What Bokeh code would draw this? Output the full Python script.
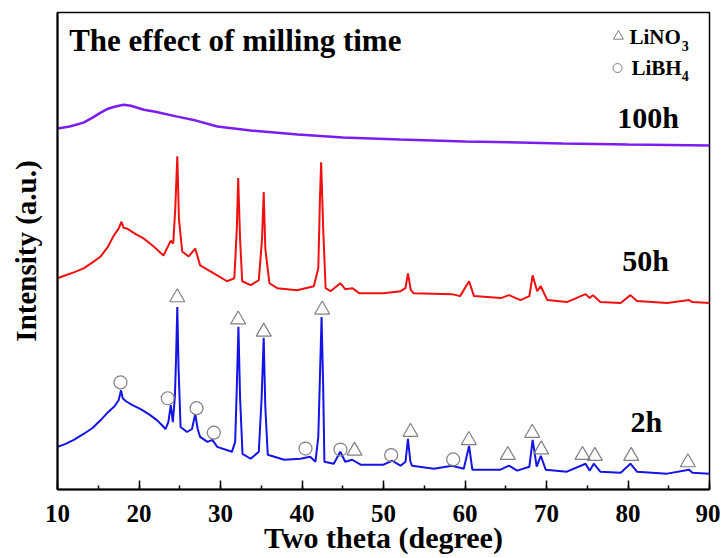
from bokeh.plotting import figure
from bokeh.models import Range1d, SingleIntervalTicker, FixedTicker, Label
from bokeh.embed import file_html
from bokeh.resources import INLINE

# ---- data (two theta in degree, intensity in a.u.) ----
x_2h = [10.0, 11.0, 12.0, 13.2, 14.3, 15.3, 16.2, 17.0, 17.5, 17.8, 18.0, 18.4, 19.2, 20.2, 21.2,
        22.2, 22.8, 23.25, 23.6, 23.9,
        24.15, 24.4, 24.55, 24.7, 24.85, 25.1, 25.9, 26.5, 26.9, 27.2, 27.5, 28.4, 29.0, 29.6, 31.4,
        31.8, 32.0, 32.2, 32.4, 32.7, 33.7, 34.7, 35.05, 35.3, 35.5, 35.8, 37.8, 39.8, 41.0, 41.65,
        42.0, 42.2, 42.4, 42.6, 42.75, 43.9, 44.7, 45.3, 46.15, 47.2, 50.0, 51.05, 52.1, 52.7, 53.0,
        53.3, 53.5, 56.2, 58.4, 59.85, 60.5, 60.9, 64.35, 65.4, 66.4, 67.9, 68.3, 68.8, 69.3, 69.9,
        72.5, 74.8, 75.3, 75.8, 76.6, 79.1, 80.3, 81.1, 84.8, 87.5, 87.9, 90.0]
y_2h = [43, 46, 50, 56, 62, 70, 78, 84, 90, 100, 92, 89, 85, 81, 76,
        70, 65, 61, 68, 85,
        68, 93, 133, 184, 123, 63, 58, 61, 76, 61, 53, 48, 50, 43, 38,
        48, 103, 164, 93, 36, 31, 38, 93, 153, 83, 35, 30, 31, 33, 28,
        53, 113, 174, 103, 28, 26, 38, 28, 30, 25, 25, 29, 24, 28, 51,
        28, 24, 21, 24, 21, 44, 20, 20, 24, 19, 23, 50, 23, 34, 20,
        18, 26, 19, 26, 18, 17, 26, 18, 16, 20, 17, 16]

x_50h = [10.0, 11.0, 12.0, 13.2, 14.3, 15.3, 16.2, 16.9, 17.5, 17.85, 18.1, 18.55, 19.5, 20.6,
         21.8, 23.0, 23.9, 24.2, 24.45, 24.7, 24.9,
         25.3, 26.1, 26.9, 27.5, 29.6, 30.8, 31.7, 32.0, 32.17, 32.4, 32.66, 33.7, 34.7, 35.1, 35.3,
         35.5, 36.0, 36.96, 39.4, 41.45, 42.0, 42.2, 42.35, 42.6, 42.9, 43.5, 44.7, 45.3, 46.2, 47.0,
         50.0, 52.1, 52.7, 53.0, 53.35, 53.7, 58.4, 59.4, 60.5, 61.1, 64.4, 65.4, 66.8, 67.9, 68.3,
         68.85, 69.3, 70.1, 72.5, 74.8, 75.3, 75.7, 76.6, 79.1, 80.3, 81.1, 84.8, 87.5, 87.9, 90.0]
y_50h = [213, 216, 219, 223, 229, 235, 245, 256, 263, 270, 264, 263, 258, 253,
         245, 236, 251, 248, 283, 336, 273,
         240, 235, 243, 226, 216, 210, 213, 263, 314, 253, 210, 206, 211, 253, 300,
         243, 208, 203, 201, 205, 223, 293, 330, 263, 203, 200, 208, 202, 203, 198,
         198, 200, 203, 218, 201, 198, 197, 195, 210, 195, 193, 196, 191, 195, 216,
         200, 205, 191, 189, 197, 193, 196, 189, 188, 196, 190, 188, 191, 189, 188]

x_100h = [10.0, 11.5, 13.2, 14.3, 15.3, 16.2, 17.0, 18.1, 19.0, 20.6, 22.0, 24.7, 27.0, 29.6, 33.7,
          39.5, 45.0, 52.0, 60.0, 72.0, 80.0, 90.0]
y_100h = [364, 366, 370, 375, 380, 384, 386, 388, 387, 383, 381, 376, 372, 366, 362,
          358, 355, 353, 351, 349, 348, 347]

# phase markers (LiNO3 triangles, LiBH4 circles)
tri_x = [24.69, 32.17, 35.31, 42.48, 46.44, 53.31, 60.47, 65.25, 68.25, 69.35, 74.42, 75.93, 80.39, 87.34]
tri_y = [193.7, 171.3, 159, 181.3, 39, 58, 49.7, 34.7, 57, 40.3, 34.7, 33.7, 33.7, 27.3]
circ_x = [17.73, 23.53, 27.06, 29.18, 40.43, 44.72, 50.94, 58.55]
circ_y = [108, 92, 82, 57.3, 41.3, 40.3, 34.7, 30.3]

FONT = "Liberation Serif"

p = figure(width=720, height=556, x_range=Range1d(10, 90), y_range=Range1d(0, 481),
           output_backend="svg", toolbar_location=None,
           min_border_left=57, min_border_right=11, min_border_top=12, min_border_bottom=63)

p.grid.visible = False
p.outline_line_color = "black"
p.outline_line_width = 1.5
p.background_fill_color = "white"
p.border_fill_color = "white"

# x axis
p.xaxis.ticker = SingleIntervalTicker(interval=10, num_minor_ticks=2)
p.xaxis.major_tick_in = 9
p.xaxis.major_tick_out = 0
p.xaxis.minor_tick_in = 4
p.xaxis.minor_tick_out = 0
p.xaxis.major_tick_line_width = 1.5
p.xaxis.minor_tick_line_width = 1.5
p.xaxis.axis_line_width = 2
p.xaxis.major_label_text_font = FONT
p.xaxis.major_label_text_font_style = "bold"
p.xaxis.major_label_text_font_size = "25px"
p.xaxis.major_label_text_color = "black"
p.xaxis.major_label_standoff = 15
p.xaxis.axis_label = "Two theta (degree)"
p.xaxis.axis_label_text_font = FONT
p.xaxis.axis_label_text_font_style = "bold"
p.xaxis.axis_label_text_font_size = "30px"
p.xaxis.axis_label_text_color = "black"
p.xaxis.axis_label_standoff = -4

# y axis (no ticks)
p.yaxis.ticker = FixedTicker(ticks=[])
p.yaxis.major_tick_in = 0
p.yaxis.major_tick_out = 0
p.yaxis.minor_tick_in = 0
p.yaxis.minor_tick_out = 0
p.yaxis.major_label_standoff = 0
p.yaxis.axis_line_width = 2
p.yaxis.axis_label = "Intensity (a.u.)"
p.yaxis.axis_label_text_font = FONT
p.yaxis.axis_label_text_font_style = "bold"
p.yaxis.axis_label_text_font_size = "29px"
p.yaxis.axis_label_text_color = "black"
p.yaxis.axis_label_standoff = 16

# curves
p.line(x_100h, y_100h, line_color="#7b1cf0", line_width=2.5)
p.line(x_50h, y_50h, line_color="#f01010", line_width=2)
p.line(x_2h, y_2h, line_color="#1414e6", line_width=2)

# phase markers
p.scatter(tri_x, tri_y, marker="triangle", size=15, fill_color=None,
          line_color="#808080", line_width=1.2)
p.scatter(circ_x, circ_y, marker="circle", size=13, fill_color=None,
          line_color="#808080", line_width=1.2)

# legend (drawn manually)
p.scatter([78.83], [457], marker="triangle", size=10, fill_color=None, line_color="#808080", line_width=1)
p.scatter([78.71], [425], marker="circle", size=9, fill_color=None, line_color="#808080", line_width=1)

def lab(x, y, t, size, align="left"):
    p.add_layout(Label(x=x, y=y, text=t, text_font=FONT, text_font_style="bold",
                       text_font_size=size, text_color="black", text_baseline="middle",
                       text_align=align))

lab(80.18, 456.5, "LiNO", "21px")
lab(86.6, 447.5, "3", "14px")
lab(80.43, 425.5, "LiBH", "21px")
lab(86.6, 417, "4", "14px")

lab(11.43, 453, "The effect of milling time", "31px")
lab(78.68, 375, "100h", "30px")
lab(79.29, 230.5, "50h", "30px")
lab(80.3, 69, "2h", "30px")

open("out.html", "w").write(file_html(p, INLINE))
